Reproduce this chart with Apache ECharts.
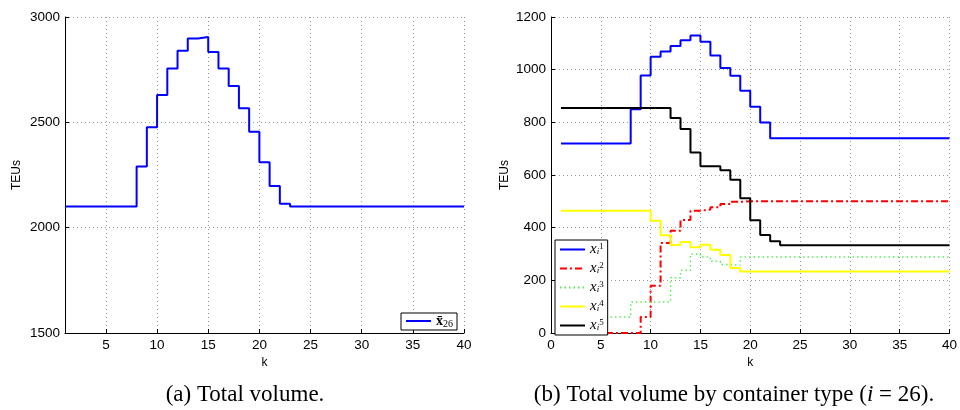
<!DOCTYPE html>
<html>
<head>
<meta charset="utf-8">
<script src="https://cdn.jsdelivr.net/npm/echarts@6/dist/echarts.min.js"></script>
<style>
  html, body { margin: 0; padding: 0; background: #fff; }
  #main { width: 960px; height: 410px; }
</style>
</head>
<body>
<div id="main"></div>
<script>
// total volume (a) and volume per container type (b), k = 1..40
var total = [2100, 2100, 2100, 2100, 2100, 2100, 2100, 2290, 2477, 2630,
             2756, 2840, 2898, 2905, 2834, 2756, 2672, 2567, 2455, 2310,
             2198, 2113, 2100, 2100, 2100, 2100, 2100, 2100, 2100, 2100,
             2100, 2100, 2100, 2100, 2100, 2100, 2100, 2100, 2100, 2100];
var x1 = [720, 720, 720, 720, 720, 720, 720, 850, 978, 1049,
          1069, 1090, 1112, 1130, 1106, 1054, 1006, 977, 920, 859,
          799, 740, 740, 740, 740, 740, 740, 740, 740, 740,
          740, 740, 740, 740, 740, 740, 740, 740, 740, 740];
var x2 = [0, 0, 0, 0, 0, 0, 0, 0, 61, 179,
          342, 388, 429, 464, 469, 478, 490, 498, 500, 500,
          500, 500, 500, 500, 500, 500, 500, 500, 500, 500,
          500, 500, 500, 500, 500, 500, 500, 500, 500, 500];
var x3 = [61, 61, 61, 61, 61, 61, 61, 118, 118, 118,
          118, 210, 238, 300, 289, 272, 260, 257, 289, 289,
          289, 289, 289, 289, 289, 289, 289, 289, 289, 289,
          289, 289, 289, 289, 289, 289, 289, 289, 289, 289];
var x4 = [464, 464, 464, 464, 464, 464, 464, 464, 464, 426,
          371, 334, 346, 326, 335, 316, 296, 247, 234, 234,
          234, 234, 234, 234, 234, 234, 234, 234, 234, 234,
          234, 234, 234, 234, 234, 234, 234, 234, 234, 234];
var x5 = [854, 854, 854, 854, 854, 854, 854, 854, 854, 854,
          854, 816, 775, 685, 633, 633, 618, 582, 512, 428,
          372, 348, 333, 333, 333, 333, 333, 333, 333, 333,
          333, 333, 333, 333, 333, 333, 333, 333, 333, 333];
var kTicksA = [5, 10, 15, 20, 25, 30, 35, 40];

function pairs(arr) {
    return arr.map(function (v, i) { return [i + 1, v]; });
}

var sans = 'Liberation Sans';
var serif = 'Liberation Serif';
var gridLine = { show: true, lineStyle: { color: '#9a9a9a', type: [1, 3], width: 1 } };
var axLine = { show: true, lineStyle: { color: '#000', width: 1 } };
var tick = { show: true, inside: true, length: 4, lineStyle: { color: '#000' } };
var lbl = { color: '#000', fontFamily: sans, fontSize: 13.5, margin: 5,
            formatter: function (v) { return String(v); } };
var nameStyle = { fontFamily: sans, fontSize: 12, color: '#000' };

var typeNames = ['x1', 'x2', 'x3', 'x4', 'x5'];
var typeColors = ['#0000ff', '#ff0000', '#55ee55', '#ffff00', '#000000'];
var typeDash = ['solid', [7, 3, 2, 3], [1.5, 3], 'solid', 'solid'];
var typeData = [x1, x2, x3, x4, x5];

var series = [{
    name: 'xbar',
    type: 'line',
    xAxisIndex: 0, yAxisIndex: 0,
    step: 'end',
    symbol: 'none',
    lineStyle: { color: '#0000ff', width: 2 },
    itemStyle: { color: '#0000ff' },
    data: pairs(total)
}];
typeNames.forEach(function (n, i) {
    series.push({
        name: n,
        type: 'line',
        xAxisIndex: 1, yAxisIndex: 1,
        step: 'end',
        symbol: 'none',
        lineStyle: { color: typeColors[i], width: i === 2 ? 1.5 : 2, type: typeDash[i] },
        itemStyle: { color: typeColors[i] },
        data: pairs(typeData[i])
    });
});

var myChart = echarts.init(document.getElementById('main'));
var option = {
    animation: false,
    backgroundColor: '#fff',
    title: [{
        text: '(a) Total volume.',
        left: 240, top: 378, textAlign: 'center',
        textStyle: { fontFamily: serif, fontSize: 23, fontWeight: 'normal', color: '#000' }
    }, {
        text: '(b) Total volume by container type ({i|i} = 26).',
        left: 729, top: 378, textAlign: 'center',
        textStyle: {
            fontFamily: serif, fontSize: 23, fontWeight: 'normal', color: '#000',
            rich: { i: { fontFamily: serif, fontStyle: 'italic', fontSize: 23 } }
        }
    }],
    grid: [
        { left: 65, top: 17, width: 399, height: 316 },
        { left: 551, top: 17, width: 399, height: 316 }
    ],
    xAxis: [{
        type: 'value', gridIndex: 0, min: 1, max: 40,
        name: 'k', nameLocation: 'middle', nameGap: 19, nameTextStyle: nameStyle,
        axisLine: axLine, splitLine: gridLine,
        axisTick: Object.assign({ customValues: kTicksA }, tick),
        axisLabel: Object.assign({ customValues: kTicksA }, lbl)
    }, {
        type: 'value', gridIndex: 1, min: 0, max: 40, interval: 5,
        name: 'k', nameLocation: 'middle', nameGap: 19, nameTextStyle: nameStyle,
        axisLine: axLine, splitLine: gridLine, axisTick: tick, axisLabel: lbl
    }],
    yAxis: [{
        type: 'value', gridIndex: 0, min: 1500, max: 3000, interval: 500,
        name: 'TEUs', nameLocation: 'middle', nameGap: 42, nameRotate: 90, nameTextStyle: nameStyle,
        axisLine: axLine, splitLine: gridLine, axisTick: tick, axisLabel: lbl
    }, {
        type: 'value', gridIndex: 1, min: 0, max: 1200, interval: 200,
        name: 'TEUs', nameLocation: 'middle', nameGap: 40, nameRotate: 90, nameTextStyle: nameStyle,
        axisLine: axLine, splitLine: gridLine, axisTick: tick, axisLabel: lbl
    }],
    legend: [{
        data: ['xbar'],
        left: 401, top: 313,
        orient: 'vertical',
        itemWidth: 25, itemHeight: 10,
        padding: [1, 4, 1, 4],
        backgroundColor: '#fff',
        borderColor: '#000', borderWidth: 1, borderRadius: 0,
        itemStyle: { opacity: 0 },
        formatter: function () { return '{b|x\u0304}{s|26}'; },
        textStyle: {
            rich: {
                b: { fontFamily: serif, fontWeight: 'bold', fontSize: 14, color: '#000' },
                s: { fontFamily: serif, fontSize: 10, color: '#000', padding: [6, 0, 0, 0] }
            }
        }
    }, {
        data: typeNames,
        left: 555, top: 240,
        orient: 'vertical',
        itemWidth: 25, itemHeight: 10, itemGap: 4,
        padding: [2, 4, 2, 4],
        backgroundColor: '#fff',
        borderColor: '#000', borderWidth: 1, borderRadius: 0,
        itemStyle: { opacity: 0 },
        formatter: function (n) { return '{x|x}{s|i}{p|' + n.slice(1) + '}'; },
        textStyle: {
            rich: {
                x: { fontFamily: serif, fontStyle: 'italic', fontSize: 15, lineHeight: 14, color: '#000' },
                s: { fontFamily: serif, fontStyle: 'italic', fontSize: 9, lineHeight: 14, verticalAlign: 'bottom', color: '#000' },
                p: { fontFamily: serif, fontSize: 9, lineHeight: 14, verticalAlign: 'top', color: '#000' }
            }
        }
    }],
    series: series
};
myChart.setOption(option);
</script>
</body>
</html>
